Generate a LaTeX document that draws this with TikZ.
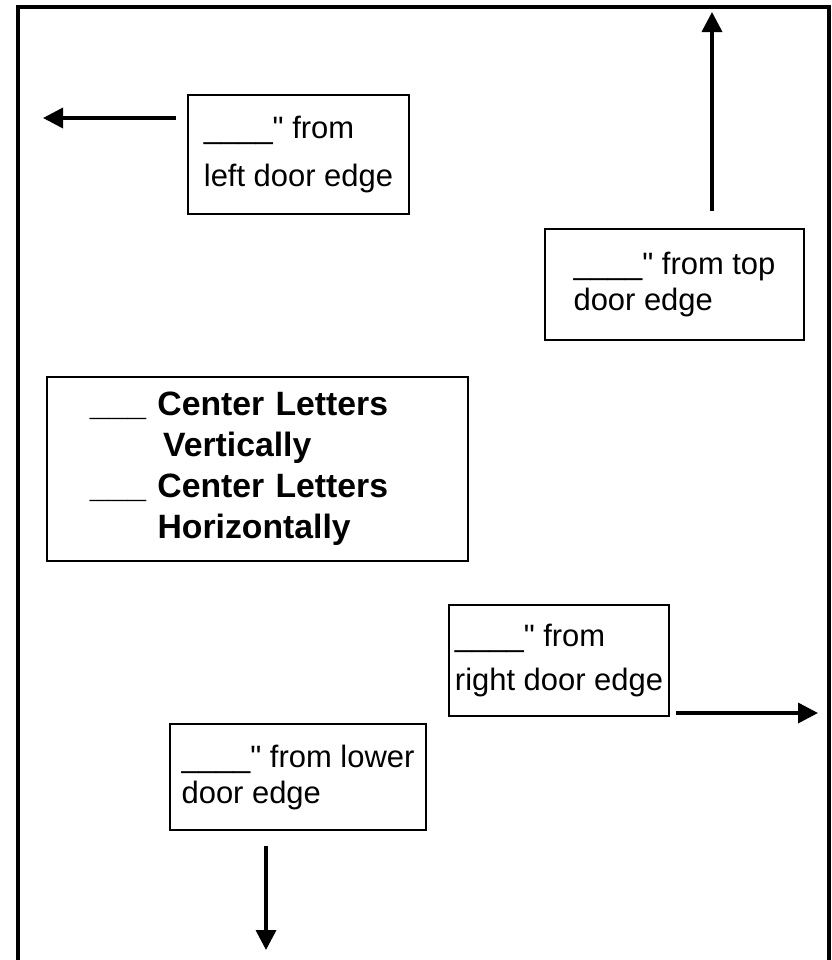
\documentclass[tikz,border=0pt]{standalone}
\usepackage{fontspec}
\setmainfont{Liberation Sans}
\usetikzlibrary{arrows.meta}

\begin{document}
\begin{tikzpicture}[x=0.025cm,y=-0.025cm,
    doorline/.style={line width=2.8pt},
    notebox/.style={draw,line width=1pt,align=left,inner sep=0pt,
      font=\fontsize{22}{25.6}\selectfont},
    centerbox/.style={draw,line width=1pt,align=left,inner ysep=0pt,
      inner xsep=1.075cm,text width=8.375cm,
      font=\fontsize{24}{29}\selectfont\bfseries},
    dimarrow/.style={line width=2.5pt,-{Triangle[length=0.5cm,width=0.5cm]}}]
  \useasboundingbox (0,0) rectangle (831,960);
  \draw[doorline] (18,975) -- (18,7) -- (829,7) -- (829,975);
  \node[notebox,minimum width=5.525cm,minimum height=2.975cm] (leftbox) at (298.5,154.5)
    {\_\_\_\_\textquotedbl\ from\\[8.5pt]left door edge};
  \node[notebox,minimum width=6.475cm,minimum height=2.775cm] (topbox) at (674.5,284.5)
    {\_\_\_\_\textquotedbl\ from top\\door edge};
  \node[centerbox,minimum width=10.525cm,minimum height=4.6cm] (centerbox) at (257.5,469)
    {\begin{tabular}{@{}l@{\ }l@{}}
      \_\_\_ & Center Letters\\
             & \,Vertically\\
      \_\_\_ & Center Letters\\
             & Horizontally
     \end{tabular}};
  \node[notebox,minimum width=5.5cm,minimum height=2.775cm] (rightbox) at (559,660.5)
    {\_\_\_\_\textquotedbl\ from\\[5pt]right door edge};
  \node[notebox,minimum width=6.4cm,minimum height=2.65cm] (lowbox) at (298,777)
    {\_\_\_\_\textquotedbl\ from lower\\door edge};
  \coordinate (lefttip) at (43,118);
  \coordinate (toptip) at (712,12);
  \coordinate (righttip) at (818,713);
  \coordinate (lowtip) at (266,950);
  \draw[dimarrow,shorten <=0.275cm] (lefttip -| leftbox.west) -- (lefttip);
  \draw[dimarrow,shorten <=0.425cm] (toptip |- topbox.north) -- (toptip);
  \draw[dimarrow,shorten <=0.15cm] (rightbox.east |- righttip) -- (righttip);
  \draw[dimarrow,shorten <=0.375cm] (lowtip |- lowbox.south) -- (lowtip);
\end{tikzpicture}
\end{document}
